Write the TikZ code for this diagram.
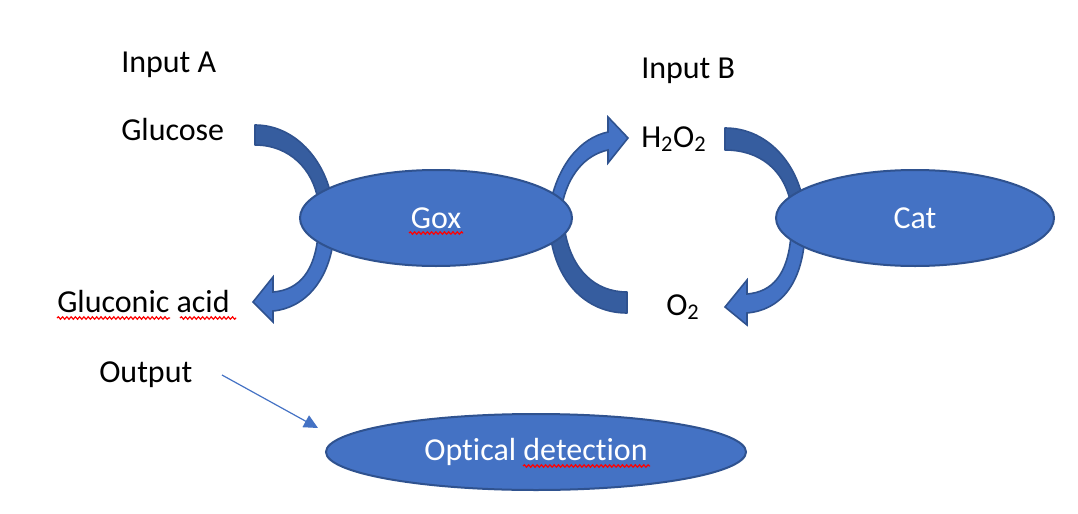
\documentclass[tikz,border=0pt]{standalone}
\usepackage{fontspec}
\setmainfont[RawFeature={-liga;-clig;-calt;-dlig}]{Carlito}
\usetikzlibrary{shapes.geometric,arrows.meta,decorations.pathmorphing}
\definecolor{fillblue}{HTML}{4472C4}
\definecolor{edgeblue}{HTML}{2F528F}
\definecolor{darkband}{HTML}{365D9F}
\begin{document}
\begin{tikzpicture}[x=0.75pt,y=-0.75pt,
  ell/.style={ellipse, draw=edgeblue, line width=1.5pt, fill=fillblue, text=white, inner sep=0pt,
    font=\fontsize{24}{28}\selectfont},
  lbl/.style={anchor=base west, inner sep=0pt, font=\fontsize{24}{28}\selectfont},
  band/.style={draw=edgeblue, line width=1.2pt, fill=darkband, line join=round},
  barrow/.style={draw=edgeblue, line width=1.2pt, fill=fillblue, line join=miter},
  squig/.style={red, line width=0.9pt, decorate, decoration={snake, amplitude=0.9pt, segment length=3.2pt}}]
\useasboundingbox (0,0) rectangle (1078,514);
% bands and arrows behind ellipses
\path[band] (255,125) .. controls (295,125) and (325,160) .. (332,200) -- (318,200) .. controls (313,170) and (290,145) .. (255,145) -- cycle;
\path[barrow] (334,235) .. controls (330,280) and (305,308) .. (273,311) -- (273,322) -- (253,302) -- (273,277) -- (273,292) .. controls (300,290) and (315,270) .. (318,235) -- cycle;
\path[barrow] (550,205) .. controls (558,165) and (580,138) .. (608,132) -- (608,117) -- (628,138) -- (608,163) -- (608,150) .. controls (585,155) and (568,175) .. (562,205) -- cycle;
\path[band] (550,232) .. controls (555,280) and (585,313) .. (627,313) -- (627,292) .. controls (595,292) and (572,270) .. (565,232) -- cycle;
\path[band] (725,128) .. controls (765,128) and (795,160) .. (803,200) -- (790,200) .. controls (783,170) and (760,150) .. (725,150) -- cycle;
\path[barrow] (805,235) .. controls (802,285) and (780,310) .. (747,313) -- (747,325) -- (725,307) -- (747,280) -- (747,294) .. controls (772,292) and (788,275) .. (791,235) -- cycle;
% ellipses
\node[ell, minimum width=204pt, minimum height=72pt] (gox) at (436,218) {Gox};
\node[ell, minimum width=208.5pt, minimum height=72pt] (cat) at (915,218) {Cat};
\node[ell, minimum width=315pt, minimum height=57pt] (opt) at (536,452) {Optical detection};
% labels
\node[lbl] (inA) at (121,72) {Input A};
\node[lbl] (glu) at (121,140) {Glucose};
\node[lbl] (inB) at (641,78) {Input B};
\node[lbl] (hoo) at (641,147) {H\textsubscript{2}O\textsubscript{2}};
\node[lbl] (gla) at (57,312) {Gluconic acid};
\node[lbl] (oo) at (666,315) {O\textsubscript{2}};
\node[lbl] (out) at (99,382) {Output};
% thin arrow
\coordinate (as) at (222,375);
\coordinate (ae) at (318,428);
\draw[fillblue, line width=0.9pt, -{Triangle[length=10.5pt,width=10pt]}] (as) -- (ae);
% spell-check squiggles
\draw[squig] (409,233) -- (463,233);
\draw[squig] (57,318) -- (170,318);
\draw[squig] (180,318) -- (236,318);
\draw[squig] (523,466) -- (650,466);
\end{tikzpicture}
\end{document}
